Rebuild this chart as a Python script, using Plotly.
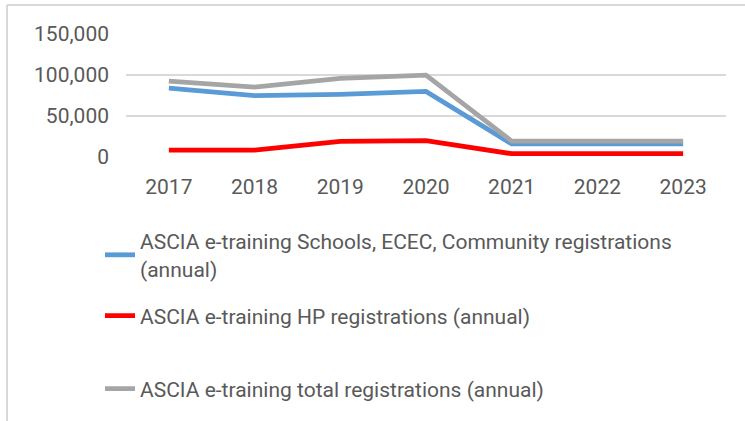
import plotly.graph_objects as go

years = ["2017", "2018", "2019", "2020", "2021", "2022", "2023"]
schools = [84000, 74800, 76400, 80000, 16000, 16000, 16000]
hp = [8500, 8500, 19000, 20000, 4000, 4000, 4000]
total = [92600, 85300, 95800, 99800, 19400, 19400, 19400]

names = [
    "ASCIA e-training Schools, ECEC, Community registrations<br>(annual)",
    "ASCIA e-training HP registrations (annual)",
    "ASCIA e-training total registrations (annual)",
]
colors = ["#5B9BD5", "#FF0000", "#A5A5A5"]
series = [schools, hp, total]
legend_ids = ["legend", "legend2", "legend3"]

FONT = "Roboto, Liberation Sans, sans-serif"
TXT = "#595959"
FS = 21

fig = go.Figure()
for nm, c, vals, lg in zip(names, colors, series, legend_ids):
    fig.add_trace(go.Scatter(
        x=years, y=vals, name=nm, mode="lines",
        line=dict(color=c, width=4.8), legend=lg,
    ))

W, H = 745, 421
L, R, T, B = 126, 19, 34, 264
pw, ph = W - L - R, H - T - B

def px_to_paper_x(px):
    return (px - L) / pw

def px_to_paper_y(py):
    return (H - B - py) / ph

legend_common = dict(
    xref="container", yref="container", xanchor="left", yanchor="middle",
    font=dict(family=FONT, size=FS, color=TXT), bgcolor="rgba(0,0,0,0)",
    borderwidth=0, itemwidth=30,
)

LX = 100 / W
fig.update_layout(
    width=W, height=H,
    margin=dict(l=L, r=R, t=T, b=B, pad=0, autoexpand=False),
    paper_bgcolor="white", plot_bgcolor="white",
    font=dict(family=FONT, size=FS, color=TXT),
    showlegend=True,
    legend=dict(x=LX, y=1 - 255 / H, **legend_common),
    legend2=dict(x=LX, y=1 - 316 / H, **legend_common),
    legend3=dict(x=LX, y=1 - 389 / H, **legend_common),
    xaxis=dict(
        type="category", range=[-0.5, len(years) - 0.5],
        showgrid=False, showline=False, zeroline=False,
        ticks="", tickfont=dict(family=FONT, size=FS, color=TXT),
        ticklabelstandoff=15, tickangle=0,
    ),
    yaxis=dict(
        range=[0, 150000], tickvals=[0, 50000, 100000, 150000],
        tickformat=",", showgrid=True, gridcolor="#D9D9D9", gridwidth=1.5,
        zeroline=False, showline=False, ticks="",
        tickfont=dict(family=FONT, size=FS, color=TXT),
        ticklabelstandoff=16,
    ),
    shapes=[
        dict(type="line", xref="paper", yref="paper",
             x0=px_to_paper_x(7), x1=px_to_paper_x(745),
             y0=px_to_paper_y(5), y1=px_to_paper_y(5),
             line=dict(color="#D9D9D9", width=2)),
        dict(type="line", xref="paper", yref="paper",
             x0=px_to_paper_x(7), x1=px_to_paper_x(7),
             y0=px_to_paper_y(5), y1=px_to_paper_y(421),
             line=dict(color="#D9D9D9", width=2)),
    ],
)

fig.write_html(
    "out.html",
    config={"displayModeBar": False},
    post_script="document.body.style.margin='0';document.body.style.padding='0';",
)
